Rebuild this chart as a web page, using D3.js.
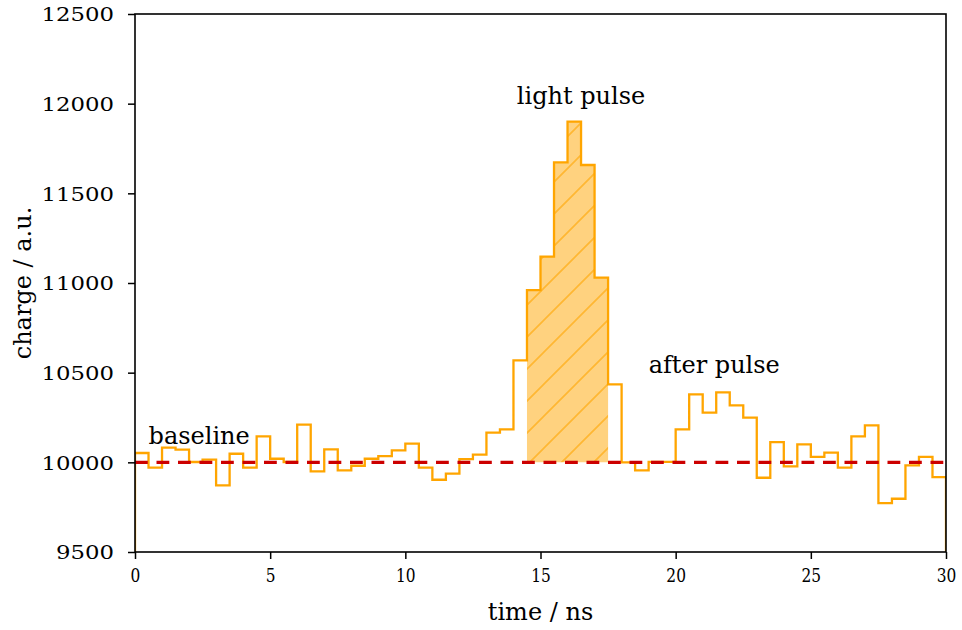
<!DOCTYPE html>
<html>
<head>
<meta charset="utf-8">
<script src="https://cdn.jsdelivr.net/npm/d3@7"></script>
<style>
  html, body { margin: 0; padding: 0; background: #fff; }
  svg { display: block; }
  text { font-family: "DejaVu Serif", "Liberation Serif", serif; fill: #000; }
</style>
</head>
<body>
<svg id="chart" width="962" height="630"></svg>
<script>
// Bin width of the sampled waveform (ns)
const binWidth = 0.5;
// Charge per 0.5 ns bin, from t = 0 to t = 30 ns
const charge = [
  10052, 9970, 10082, 10071, 10002, 10015, 9872, 10048, 9970, 10145,
  10020, 10002, 10210, 9950, 10072, 9955, 9981, 10020, 10035, 10067,
  10104, 9970, 9903, 9937, 10018, 10043, 10166, 10184, 10569, 10960,
  11147, 11673, 11900, 11658, 11030, 10435, 10000, 9955, 10003, 10003,
  10184, 10379, 10277, 10390, 10318, 10249, 9914, 10113, 9978, 10100,
  10030, 10054, 9970, 10145, 10206, 9773, 9797, 9983, 10030, 9917
];
const baselineLevel = 10000;
// Integration window of the light pulse (ns)
const pulseWindow = [14.5, 17.5];
const xTicks = [0, 5, 10, 15, 20, 25, 30];
const yTicks = [9500, 10000, 10500, 11000, 11500, 12000, 12500];
const annotations = [
  { text: "baseline",    t: 0.5,  q: 10100, anchor: "start" },
  { text: "light pulse", t: 16.5, q: 12000, anchor: "middle" },
  { text: "after pulse", t: 19.0, q: 10500, anchor: "start" }
];

const margin = { left: 135, right: 16, top: 14, bottom: 78 };
const W = 962, H = 630;
const svg = d3.select("#chart");

const x = d3.scaleLinear().domain([0, 30]).range([margin.left, W - margin.right]);
const y = d3.scaleLinear().domain([9500, 12500]).range([H - margin.bottom, margin.top]);

const defs = svg.append("defs");
defs.append("clipPath").attr("id", "plotclip")
  .append("rect")
  .attr("x", x(0)).attr("y", y(12500))
  .attr("width", x(30) - x(0)).attr("height", y(9500) - y(12500));

// Diagonal "/" hatch for the integrated pulse region
const hp = 32;
const pat = defs.append("pattern")
  .attr("id", "hatch")
  .attr("patternUnits", "userSpaceOnUse")
  .attr("width", hp).attr("height", hp);
pat.append("rect").attr("width", hp).attr("height", hp).attr("fill", "rgb(255,210,127)");
pat.append("path")
  .attr("d", `M0,${hp} L${hp},0 M${-hp/4},${hp/4} L${hp/4},${-hp/4} M${3*hp/4},${5*hp/4} L${5*hp/4},${3*hp/4}`)
  .attr("stroke", "rgba(255,165,0,0.6)")
  .attr("stroke-width", 1.7);

const bins = charge.map((v, i) => ({ t: i * binWidth, v }));
const plot = svg.append("g").attr("clip-path", "url(#plotclip)");

// Shaded pulse window between baseline and the histogram
const windowBins = bins.filter(d => d.t >= pulseWindow[0] - 1e-9 && d.t < pulseWindow[1] - 1e-9);
const windowPts = windowBins.concat([{ t: pulseWindow[1], v: windowBins[windowBins.length - 1].v }]);
plot.append("path")
  .datum(windowPts)
  .attr("fill", "url(#hatch)")
  .attr("d", d3.area()
    .x(d => x(d.t))
    .y0(y(baselineLevel))
    .y1(d => y(d.v))
    .curve(d3.curveStepAfter));

// Step histogram outline
const stepPts = [{ t: 0, v: 9000 }]
  .concat(bins)
  .concat([{ t: 30, v: charge[charge.length - 1] }, { t: 30, v: 9000 }]);
plot.append("path")
  .datum(stepPts)
  .attr("fill", "none")
  .attr("stroke", "#FFA500")
  .attr("stroke-width", 2.3)
  .attr("d", d3.line().x(d => x(d.t)).y(d => y(d.v)).curve(d3.curveStepAfter));

// Baseline level
plot.append("line")
  .attr("x1", x(0)).attr("x2", x(30))
  .attr("y1", y(baselineLevel)).attr("y2", y(baselineLevel))
  .attr("stroke", "#CC0000")
  .attr("stroke-width", 3.4)
  .attr("stroke-dasharray", "12.8 8.7");

// Axes
const xAxis = svg.append("g")
  .attr("transform", `translate(0,${y(9500)})`)
  .call(d3.axisBottom(x).tickValues(xTicks).tickFormat(d3.format("d")).tickSize(7).tickPadding(10));
const yAxis = svg.append("g")
  .attr("transform", `translate(${x(0)},0)`)
  .call(d3.axisLeft(y).tickValues(yTicks).tickFormat(d3.format("d")).tickSize(7).tickPadding(14));
[xAxis, yAxis].forEach(g => {
  g.select(".domain").remove();
  g.selectAll(".tick line").attr("stroke", "#000").attr("stroke-width", 1.5);
  g.selectAll(".tick text")
    .attr("font-family", "DejaVu Serif")
    .attr("fill", "#000")
    .attr("lengthAdjust", "spacingAndGlyphs");
});
xAxis.selectAll(".tick text")
  .attr("font-size", 19)
  .attr("textLength", d => String(d).length * 9.8);
yAxis.selectAll(".tick text")
  .attr("font-size", 19)
  .attr("dy", "0.36em")
  .attr("textLength", d => String(d).length * 14.5);

// Frame
svg.append("rect")
  .attr("x", x(0)).attr("y", y(12500))
  .attr("width", x(30) - x(0)).attr("height", y(9500) - y(12500))
  .attr("fill", "none").attr("stroke", "#000").attr("stroke-width", 1.6);

// Axis titles
svg.append("text")
  .attr("x", (x(0) + x(30)) / 2).attr("y", 620)
  .attr("text-anchor", "middle").attr("font-size", 24)
  .text("time / ns");
svg.append("text")
  .attr("transform", `translate(31,${(y(9500) + y(12500)) / 2}) rotate(-90)`)
  .attr("text-anchor", "middle").attr("font-size", 24)
  .text("charge / a.u.");

// Annotations
svg.selectAll("text.note")
  .data(annotations)
  .join("text")
  .attr("class", "note")
  .attr("x", d => x(d.t)).attr("y", d => y(d.q))
  .attr("text-anchor", d => d.anchor)
  .attr("font-size", 24)
  .text(d => d.text);
</script>
</body>
</html>
